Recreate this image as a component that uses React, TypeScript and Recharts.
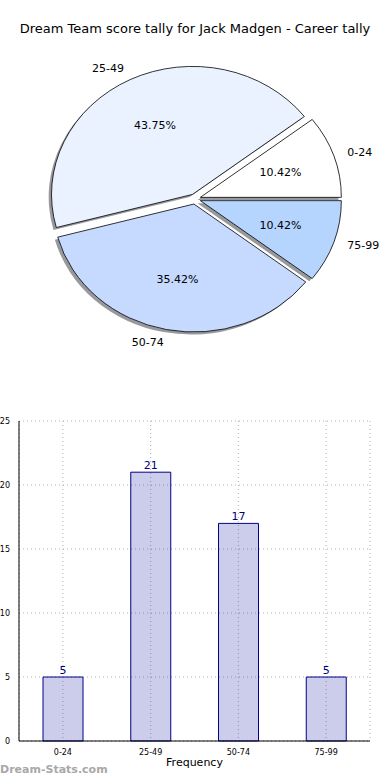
import { Bar, BarChart, CartesianGrid, LabelList, Pie, PieChart, XAxis, YAxis } from 'recharts'

const FONT = '"DejaVu Sans", sans-serif'

const ranges = ['0-24', '25-49', '50-74', '75-99']
const tally = [5, 21, 17, 5]
const sliceColors = ['#ffffff', '#ebf2ff', '#c6d9ff', '#b5d5ff']
const yTicks = [0, 5, 10, 15, 20, 25]

const pieData = ranges.map((name, i) => ({ name, value: tally[i], fill: sliceColors[i] }))
const barData = ranges.map((name, i) => ({ name, value: tally[i] }))

// the original pie is squashed vertically
const RX = 141
const RY = 128
const EXPLODE = 0.04
const RAD = Math.PI / 180

function ellipsePath(x0: number, y0: number, a0: number, a1: number) {
  const sx = x0 + RX * Math.cos(a0 * RAD)
  const sy = y0 - RY * Math.sin(a0 * RAD)
  const ex = x0 + RX * Math.cos(a1 * RAD)
  const ey = y0 - RY * Math.sin(a1 * RAD)
  const large = a1 - a0 > 180 ? 1 : 0
  return `M${x0},${y0} L${sx},${sy} A${RX},${RY} 0 ${large} 0 ${ex},${ey} Z`
}

function Wedge(props: any) {
  const { cx, cy, startAngle, endAngle, midAngle, fill } = props
  const a0 = Math.min(startAngle, endAngle)
  const a1 = Math.max(startAngle, endAngle)
  const x0 = cx + EXPLODE * RX * Math.cos(midAngle * RAD)
  const y0 = cy - EXPLODE * RY * Math.sin(midAngle * RAD)
  return (
    <g>
      <path
        d={ellipsePath(x0 - 0.02 * RX, y0 + 0.02 * RY, a0, a1)}
        fill="rgba(50,52,60,0.5)"
        stroke="none"
      />
      <path d={ellipsePath(x0, y0, a0, a1)} fill={fill} stroke="#000" strokeWidth={0.8} />
    </g>
  )
}

function WedgeLabel(props: any) {
  const { cx, cy, midAngle, percent, name } = props
  const c = Math.cos(midAngle * RAD)
  const s = Math.sin(midAngle * RAD)
  const x0 = cx + EXPLODE * RX * c
  const y0 = cy - EXPLODE * RY * s
  return (
    <g fontFamily={FONT} fontSize={11} fill="#000">
      <text
        x={x0 + 1.1 * RX * c}
        y={y0 - 1.1 * RY * s}
        textAnchor={c >= 0 ? 'start' : 'end'}
        dominantBaseline="central"
      >
        {name}
      </text>
      <text x={x0 + 0.6 * RX * c} y={y0 - 0.6 * RY * s} textAnchor="middle" dominantBaseline="central">
        {(percent * 100).toFixed(2)}%
      </text>
    </g>
  )
}

export default function App() {
  return (
    <div style={{ position: 'absolute', left: 0, top: 0, width: 390, height: 780, background: '#fff' }}>
      <div
        style={{
          position: 'absolute',
          top: 21,
          width: 390,
          textAlign: 'center',
          fontFamily: FONT,
          fontSize: 13,
          color: '#000',
        }}
      >
        Dream Team score tally for Jack Madgen - Career tally
      </div>

      <div style={{ position: 'absolute', top: 0, left: 0 }}>
        <PieChart width={390} height={390} margin={{ top: 0, right: 0, bottom: 0, left: 0 }}>
          <Pie
            data={pieData}
            dataKey="value"
            nameKey="name"
            cx={195}
            cy={199}
            outerRadius={RX}
            startAngle={0}
            endAngle={360}
            shape={Wedge}
            label={WedgeLabel}
            labelLine={false}
            isAnimationActive={false}
          />
        </PieChart>
      </div>

      <div style={{ position: 'absolute', top: 400, left: 0 }}>
        <BarChart width={390} height={380} data={barData} margin={{ top: 21, right: 20, bottom: 0, left: 0 }}>
          <CartesianGrid stroke="#b0b0b0" strokeDasharray="1 3" />
          <XAxis
            dataKey="name"
            height={39}
            tickLine={false}
            axisLine={{ stroke: '#000' }}
            tick={{ fontSize: 8, fill: '#000', fontFamily: FONT }}
            tickMargin={2}
            label={{ value: 'Frequency', position: 'insideBottom', offset: 14, fontSize: 11, fill: '#000', fontFamily: FONT }}
          />
          <XAxis xAxisId="top" orientation="top" dataKey="name" height={0} tick={false} tickLine={false} axisLine={{ stroke: '#000' }} />
          <YAxis
            width={19}
            domain={[0, 25]}
            ticks={yTicks}
            tickLine={false}
            axisLine={{ stroke: '#000' }}
            tick={{ fontSize: 8, fill: '#000', fontFamily: FONT }}
            tickMargin={3}
            label={{ value: 'Number of games', angle: -90, position: 'insideLeft', offset: -17, fontSize: 11, fill: '#000', fontFamily: FONT, style: { textAnchor: 'middle' } }}
          />
          <YAxis yAxisId="right" orientation="right" width={0} domain={[0, 25]} tick={false} tickLine={false} axisLine={{ stroke: '#000' }} />
          <Bar dataKey="value" barSize={40} fill="#000099" fillOpacity={0.2} stroke="#000088" strokeWidth={1} isAnimationActive={false}>
            <LabelList dataKey="value" position="top" offset={3} fill="#000080" fontSize={11} fontFamily={FONT} />
          </Bar>
        </BarChart>
      </div>

      <div
        style={{
          position: 'absolute',
          left: 0,
          top: 763,
          fontFamily: FONT,
          fontSize: 11,
          fontWeight: 'bold',
          color: '#a8a8a8',
        }}
      >
        Dream-Stats.com
      </div>
    </div>
  )
}
